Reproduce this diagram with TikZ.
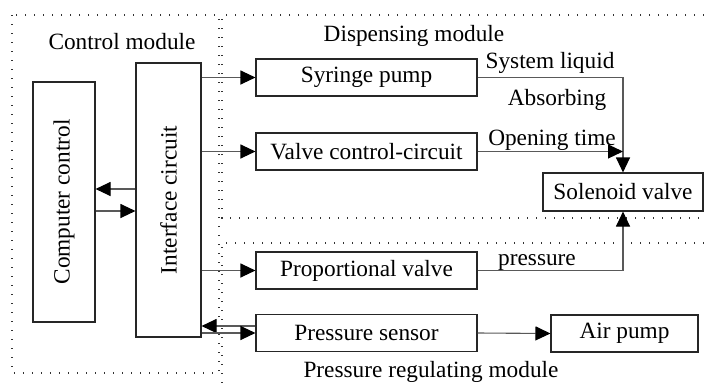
\documentclass[tikz,border=0pt]{standalone}
\usepackage{fontspec}
\setmainfont{Liberation Serif}
\usetikzlibrary{arrows.meta,calc}
\begin{document}
\begin{tikzpicture}[x=1pt,y=-1pt,
  every node/.style={font=\fontsize{23.3}{27}\selectfont},
  box/.style={draw=black!85, line width=1.1pt, inner sep=0pt, fill=white},
  conn/.style={draw=black!65, line width=1.1pt},
  arr/.style={conn, -{Triangle[length=15pt,width=14pt,color=black,fill=black]}},
  dotline/.style={draw=black!80, line width=1.1pt, dash pattern=on 1.1pt off 7.9pt},
  lbl/.style={inner sep=0pt, anchor=base}]
\useasboundingbox (0,0) rectangle (704,383);
% module frames
\draw[dotline] (12,15) rectangle (219,373);
\draw[dotline] (704,15) -- (222,15) -- (222,218) -- (704,218);
\draw[dotline] (704,243) -- (222,243) -- (222,383);
% boxes
\node[box, minimum width=62pt, minimum height=240pt,
  label={[rotate=90, inner sep=0pt]center:Computer control}] (cc) at (64,202) {};
\node[box, minimum width=65pt, minimum height=274pt,
  label={[rotate=90, inner sep=0pt]center:Interface circuit}] (ic) at (168.5,200) {};
\node[box, minimum width=221pt, minimum height=37pt] (sp) at (366.5,77.5) {Syringe pump};
\node[box, minimum width=221pt, minimum height=37pt] (vc) at (366.5,151.5) {Valve control-circuit};
\node[box, minimum width=160pt, minimum height=38pt] (sv) at (623,192) {Solenoid valve};
\node[box, minimum width=221pt, minimum height=37pt] (pv) at (366.5,270.5) {Proportional valve};
\node[box, minimum width=221pt, minimum height=37pt] (ps) at (366.5,333) {Pressure sensor};
\node[box, minimum width=147pt, minimum height=37pt] (ap) at (624.5,333.5) {Air pump};
% labels
\node[lbl] (lcm) at (122,49) {Control module};
\node[lbl] (ldm) at (414,41) {Dispensing module};
\node[lbl] (lsl) at (550,68) {System liquid};
\node[lbl] (lab) at (557,105) {Absorbing};
\node[lbl] (lot) at (552,145) {Opening time};
\node[lbl] (lpr) at (537,265) {pressure};
\node[lbl] (lpm) at (431,377) {Pressure regulating module};
% connectors
\draw[arr] (ic.east |- sp.west) -- (sp.west);
\draw[arr] (ic.east |- vc.west) -- (vc.west);
\draw[arr] (ic.west |- 0,189) -- (cc.east |- 0,189);
\draw[arr] (cc.east |- 0,211) -- (ic.west |- 0,211);
\draw[arr] (ic.east |- pv.west) -- (pv.west);
\draw[arr] ([yshift=7pt]ps.west) -- (ic.east |- 0,326);
\draw[arr] (ic.east |- ps.west) -- (ps.west);
\draw[arr] (sp.east) -- (sp.east -| sv.north) -- (sv.north);
\draw[arr] (vc.east) -- (vc.east -| sv.north);
\draw[arr] (pv.east) -- (pv.east -| sv.south) -- (sv.south);
\draw[arr] (ps.east) -- (ap.west);
\end{tikzpicture}
\end{document}
